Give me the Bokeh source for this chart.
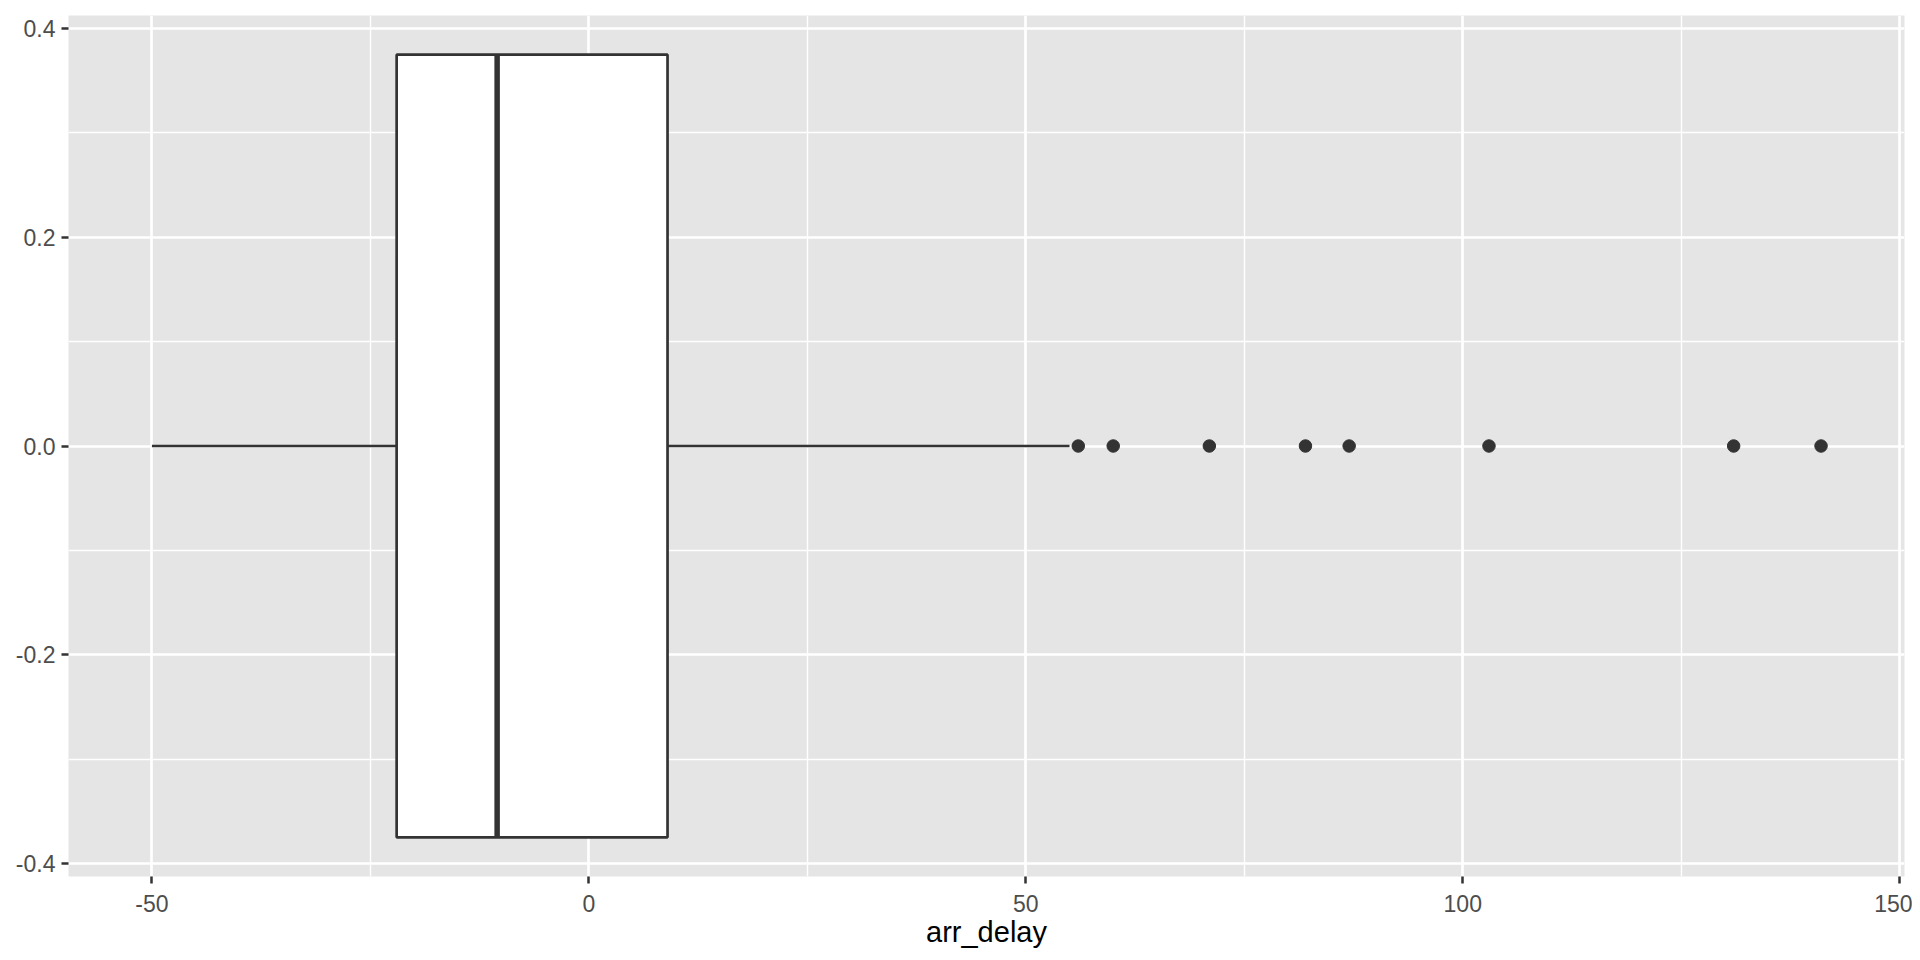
from bokeh.plotting import figure
from bokeh.models import Range1d, FixedTicker, PrintfTickFormatter
from bokeh.embed import file_html
from bokeh.resources import INLINE

# ---- data ----
whisker_low = -50
q1 = -22
median = -10.5
q3 = 9
whisker_high = 55
outliers = [56, 60, 71, 82, 87, 103, 131, 141]
box_half_height = 0.375

x_major_ticks = [-50, 0, 50, 100, 150]
x_minor_ticks = [-25, 25, 75, 125]
y_major_ticks = [-0.4, -0.2, 0.0, 0.2, 0.4]
y_minor_ticks = [-0.3, -0.1, 0.1, 0.3]
x_title = "arr_delay"

# ranges with ggplot-like 5% expansion
lo = min([whisker_low] + outliers)
hi = max([whisker_high] + outliers)
pad = 0.05 * (hi - lo)
ypad = 0.05 * (2 * box_half_height)

p = figure(width=1912, height=956, output_backend="svg", toolbar_location=None,
           x_range=Range1d(lo - pad, hi + pad),
           y_range=Range1d(-box_half_height - ypad, box_half_height + ypad),
           min_border_left=68, min_border_right=8, min_border_top=15, min_border_bottom=80)

p.background_fill_color = "#E5E5E5"
p.border_fill_color = "white"
p.outline_line_color = None

# grids
p.xgrid.ticker = FixedTicker(ticks=x_major_ticks, minor_ticks=x_minor_ticks)
p.ygrid.ticker = FixedTicker(ticks=y_major_ticks, minor_ticks=y_minor_ticks)
for g in (p.xgrid, p.ygrid):
    g.grid_line_color = "white"
    g.grid_line_width = 2.7
    g.minor_grid_line_color = "white"
    g.minor_grid_line_width = 1.4

# axes
p.xaxis.ticker = FixedTicker(ticks=x_major_ticks)
p.yaxis.ticker = FixedTicker(ticks=y_major_ticks)
p.xaxis.formatter = PrintfTickFormatter(format="%d")
p.yaxis.formatter = PrintfTickFormatter(format="%.1f")
for ax in (p.xaxis, p.yaxis):
    ax.axis_line_color = None
    ax.major_tick_line_color = "#333333"
    ax.major_tick_line_width = 2.5
    ax.major_tick_out = 7
    ax.major_tick_in = 0
    ax.minor_tick_out = 0
    ax.minor_tick_in = 0
    ax.major_label_text_font = "Liberation Sans"
    ax.major_label_text_font_size = "23px"
    ax.major_label_text_color = "#4D4D4D"
p.xaxis.major_label_standoff = 11
p.yaxis.major_label_standoff = 6
p.xaxis.axis_label = x_title
p.xaxis.axis_label_text_font = "Liberation Sans"
p.xaxis.axis_label_text_font_size = "29px"
p.xaxis.axis_label_text_font_style = "normal"
p.xaxis.axis_label_text_color = "black"
p.xaxis.axis_label_standoff = 1

# whiskers
p.segment(x0=[whisker_low, q3], y0=[0, 0], x1=[q1, whisker_high], y1=[0, 0],
          line_color="#333333", line_width=2.7)
# box
p.quad(left=[q1], right=[q3], bottom=[-box_half_height], top=[box_half_height],
       fill_color="white", line_color="#333333", line_width=2.7)
# median
p.segment(x0=[median], y0=[-box_half_height], x1=[median], y1=[box_half_height],
          line_color="#333333", line_width=5.5)
# outliers
p.scatter(x=outliers, y=[0] * len(outliers), size=12.5,
          fill_color="#333333", line_color="#333333")

open("out.html", "w").write(file_html(p, INLINE))
